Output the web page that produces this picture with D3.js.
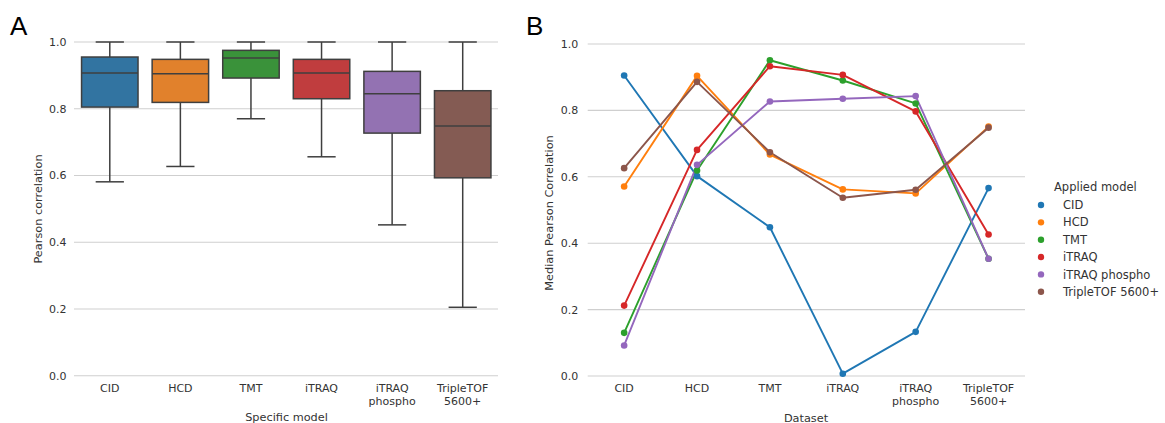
<!DOCTYPE html>
<html>
<head>
<meta charset="utf-8">
<script src="https://cdn.jsdelivr.net/npm/d3@7"></script>
<style>
html,body{margin:0;padding:0;background:#fff;}
svg{display:block;font-family:"DejaVu Sans",sans-serif;}
</style>
</head>
<body>
<svg id="chart" width="1165" height="423"></svg>
<script>
// ---------- DATA ----------
const categories = ["CID", "HCD", "TMT", "iTRAQ", "iTRAQ phospho", "TripleTOF 5600+"];
const categoryLabelLines = [["CID"], ["HCD"], ["TMT"], ["iTRAQ"], ["iTRAQ", "phospho"], ["TripleTOF", "5600+"]];
const yTicks = [0.0, 0.2, 0.4, 0.6, 0.8, 1.0];

// Panel A: box statistics per specific model
const boxLowWhisker = [0.581, 0.627, 0.770, 0.656, 0.452, 0.205];
const boxQ1         = [0.805, 0.819, 0.892, 0.830, 0.727, 0.593];
const boxMedian     = [0.907, 0.905, 0.952, 0.907, 0.845, 0.748];
const boxQ3         = [0.955, 0.948, 0.975, 0.948, 0.912, 0.854];
const boxHighWhisker= [1.0, 1.0, 1.0, 1.0, 1.0, 1.0];

// Panel B: median Pearson correlation, one series per applied model (x = dataset)
const seriesCID       = [0.905, 0.602, 0.448, 0.007, 0.133, 0.566];
const seriesHCD       = [0.571, 0.904, 0.667, 0.562, 0.550, 0.751];
const seriesTMT       = [0.130, 0.619, 0.951, 0.890, 0.821, 0.353];
const seriesITRAQ     = [0.212, 0.681, 0.933, 0.907, 0.797, 0.426];
const seriesITRAQPhos = [0.092, 0.636, 0.827, 0.835, 0.843, 0.353];
const seriesTripleTOF = [0.626, 0.886, 0.674, 0.537, 0.561, 0.748];
const seriesValues = [seriesCID, seriesHCD, seriesTMT, seriesITRAQ, seriesITRAQPhos, seriesTripleTOF];

// ---------- STYLE ----------
const boxColors  = ["#3274a1", "#e1812c", "#3a923a", "#c03d3e", "#9372b2", "#845b53"];
const lineColors = ["#1f77b4", "#ff7f0e", "#2ca02c", "#d62728", "#9467bd", "#8c564b"];
const edge = "#3f3f3f";
const grid = "#cfcfcf";
const txt = "#333333";

const svg = d3.select("#chart");

function yAxisGrid(g, y, x0, x1, labelRight) {
  g.selectAll("line.grid").data(yTicks).join("line")
    .attr("x1", x0).attr("x2", x1)
    .attr("y1", d => y(d)).attr("y2", d => y(d))
    .attr("stroke", grid).attr("stroke-width", 1.1);
  g.selectAll("text.yt").data(yTicks).join("text")
    .attr("class", "yt")
    .attr("x", labelRight).attr("y", d => y(d))
    .attr("dy", "0.36em").attr("text-anchor", "end")
    .attr("font-size", 11).attr("fill", txt)
    .text(d => d3.format(".1f")(d));
}
function xLabels(g, x, yTop) {
  categories.forEach((c, i) => {
    const t = g.append("text")
      .attr("x", x(c) + x.bandwidth() / 2).attr("y", yTop)
      .attr("text-anchor", "middle").attr("font-size", 11).attr("fill", txt);
    categoryLabelLines[i].forEach((ln, j) => {
      t.append("tspan").attr("x", x(c) + x.bandwidth() / 2)
        .attr("dy", j === 0 ? 0 : 12.8).text(ln);
    });
  });
}

// ---------- PANEL A ----------
const xA = d3.scaleBand().domain(categories).range([74.5, 498]).padding(0);
const yA = d3.scaleLinear().domain([0, 1]).range([375.7, 42]);
const gA = svg.append("g");
yAxisGrid(gA, yA, 74, 498, 66.5);
xLabels(gA, xA, 392.3);

const bw = xA.bandwidth() * 0.8;
categories.forEach((c, i) => {
  const cx = xA(c) + xA.bandwidth() / 2;
  const g = gA.append("g");
  // whiskers
  g.append("line").attr("x1", cx).attr("x2", cx)
    .attr("y1", yA(boxQ3[i])).attr("y2", yA(boxHighWhisker[i]))
    .attr("stroke", edge).attr("stroke-width", 1.5);
  g.append("line").attr("x1", cx).attr("x2", cx)
    .attr("y1", yA(boxQ1[i])).attr("y2", yA(boxLowWhisker[i]))
    .attr("stroke", edge).attr("stroke-width", 1.5);
  // caps
  [boxHighWhisker[i], boxLowWhisker[i]].forEach(v => {
    g.append("line").attr("x1", cx - bw / 4).attr("x2", cx + bw / 4)
      .attr("y1", yA(v)).attr("y2", yA(v))
      .attr("stroke", edge).attr("stroke-width", 1.5);
  });
  // box
  g.append("rect").attr("x", cx - bw / 2).attr("width", bw)
    .attr("y", yA(boxQ3[i])).attr("height", yA(boxQ1[i]) - yA(boxQ3[i]))
    .attr("fill", boxColors[i]).attr("stroke", edge).attr("stroke-width", 1.5);
  // median
  g.append("line").attr("x1", cx - bw / 2).attr("x2", cx + bw / 2)
    .attr("y1", yA(boxMedian[i])).attr("y2", yA(boxMedian[i]))
    .attr("stroke", edge).attr("stroke-width", 1.5);
});

gA.append("text").attr("transform", "translate(41.5,209) rotate(-90)")
  .attr("text-anchor", "middle").attr("font-size", 11.3).attr("fill", txt)
  .text("Pearson correlation");
gA.append("text").attr("x", 286.5).attr("y", 420.5)
  .attr("text-anchor", "middle").attr("font-size", 11.3).attr("fill", txt)
  .text("Specific model");
svg.append("text").attr("x", 10).attr("y", 35.3)
  .attr("font-family", "Liberation Sans, Arial, sans-serif")
  .attr("font-size", 26).attr("fill", "#000").text("A");

// ---------- PANEL B ----------
const xB = d3.scaleBand().domain(categories).range([587.7, 1025]).padding(0);
const yB = d3.scaleLinear().domain([0, 1]).range([376, 44]);
const gB = svg.append("g");
yAxisGrid(gB, yB, 587.7, 1025, 578.3);
xLabels(gB, xB, 392.3);

const line = d3.line()
  .x((d, i) => xB(categories[i]) + xB.bandwidth() / 2)
  .y(d => yB(d));
seriesValues.forEach((vals, s) => {
  gB.append("path").datum(vals).attr("d", line)
    .attr("fill", "none").attr("stroke", lineColors[s]).attr("stroke-width", 1.9)
    .attr("stroke-linejoin", "round");
});
seriesValues.forEach((vals, s) => {
  gB.selectAll(null).data(vals).join("circle")
    .attr("cx", (d, i) => xB(categories[i]) + xB.bandwidth() / 2)
    .attr("cy", d => yB(d)).attr("r", 3.3)
    .attr("fill", lineColors[s]);
});

gB.append("text").attr("transform", "translate(553,213) rotate(-90)")
  .attr("text-anchor", "middle").attr("font-size", 11.3).attr("fill", txt)
  .text("Median Pearson Correlation");
gB.append("text").attr("x", 806).attr("y", 421.5)
  .attr("text-anchor", "middle").attr("font-size", 11.3).attr("fill", txt)
  .text("Dataset");
svg.append("text").attr("x", 526).attr("y", 34.5)
  .attr("font-family", "Liberation Sans, Arial, sans-serif")
  .attr("font-size", 26).attr("fill", "#000").text("B");

// legend
const lg = svg.append("g");
lg.append("text").attr("x", 1054).attr("y", 186.7).attr("dy", "0.36em")
  .attr("font-size", 11.5).attr("fill", txt).text("Applied model");
categories.forEach((c, i) => {
  const yy = 205 + i * 17.35;
  lg.append("circle").attr("cx", 1041).attr("cy", yy).attr("r", 3.2).attr("fill", lineColors[i]);
  lg.append("text").attr("x", 1063).attr("y", yy).attr("dy", "0.36em")
    .attr("font-size", 11.5).attr("fill", txt).text(c);
});
</script>
</body>
</html>
